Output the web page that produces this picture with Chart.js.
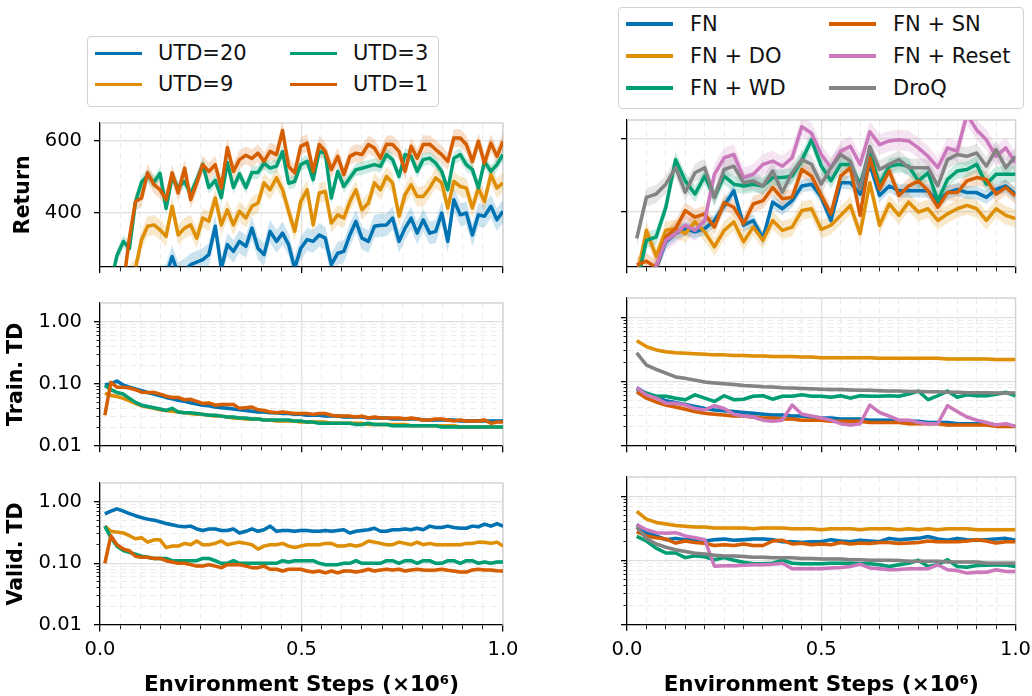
<!DOCTYPE html>
<html>
<head>
<meta charset="utf-8">
<script src="https://cdn.jsdelivr.net/npm/chart.js@4.4.1/dist/chart.umd.min.js"></script>
<style>
  body { margin: 0; width: 1032px; height: 696px; position: relative; overflow: hidden; background: #fff; font-family: 'DejaVu Sans', sans-serif; }
  canvas { position: absolute; }
  .box { position: absolute; border: 1px solid #d2d2d2; border-radius: 4px; background: #fff; }
  .swatch { position: absolute; height: 3.5px; width: 47px; }
  .lbl { position: absolute; font-size: 21px; line-height: 21px; color: #111; white-space: nowrap; }
</style>
</head>
<body>
<script>
// evaluation steps (x 1e6)
const stepsLeft = [
  0.012, 0.027, 0.042, 0.058, 0.073, 0.088, 0.103, 0.118, 0.134, 0.149,
  0.164, 0.179, 0.194, 0.210, 0.225, 0.240, 0.255, 0.270, 0.286, 0.301,
  0.316, 0.331, 0.346, 0.362, 0.377, 0.392, 0.407, 0.422, 0.438, 0.453,
  0.468, 0.483, 0.498, 0.514, 0.529, 0.544, 0.559, 0.574, 0.590, 0.605,
  0.620, 0.635, 0.650, 0.666, 0.681, 0.696, 0.711, 0.726, 0.742, 0.757,
  0.772, 0.787, 0.802, 0.818, 0.833, 0.848, 0.863, 0.878, 0.894, 0.909,
  0.924, 0.939, 0.954, 0.970, 0.985, 1.000
];
const stepsRight = [
  0.025, 0.050, 0.075, 0.100, 0.125, 0.150, 0.175, 0.200, 0.225, 0.250,
  0.275, 0.300, 0.325, 0.350, 0.375, 0.400, 0.425, 0.450, 0.475, 0.500,
  0.525, 0.550, 0.575, 0.600, 0.625, 0.650, 0.675, 0.700, 0.725, 0.750,
  0.775, 0.800, 0.825, 0.850, 0.875, 0.900, 0.925, 0.950, 0.975, 1.000
];

// tick labels
const xTicks = [0, 0.05, 0.1, 0.15, 0.2, 0.25, 0.3, 0.35, 0.4, 0.45, 0.5,
                0.55, 0.6, 0.65, 0.7, 0.75, 0.8, 0.85, 0.9, 0.95, 1];
const xMajor = [0, 0.5, 1];
const returnTicks = [400, 600];
const logTicks = [0.01, 0.02, 0.03, 0.04, 0.05, 0.06, 0.07, 0.08, 0.09,
                  0.1, 0.2, 0.3, 0.4, 0.5, 0.6, 0.7, 0.8, 0.9, 1];
const logMajor = [0.01, 0.1, 1];

// left column: UTD sweep
const utdLabels = ['UTD=20', 'UTD=9', 'UTD=3', 'UTD=1'];
const utdColors = ['#0173b2', '#de8f05', '#029e73', '#d55e00'];

const returnUtd20 = [
  150, 160, 170, 180, 190, 200, 205, 210, 215, 220,
  225, 278, 230, 240, 255, 262, 269, 283, 362, 245,
  311, 292, 320, 306, 357, 301, 283, 348, 320, 343,
  311, 245, 300, 325, 320, 338, 329, 255, 287, 292,
  338, 376, 329, 320, 362, 365, 366, 385, 320, 357,
  385, 343, 380, 343, 348, 399, 320, 436, 394, 399,
  338, 394, 390, 418, 380, 404
];
const returnUtd9 = [
  150, 165, 180, 200, 225, 245, 324, 362, 366, 352,
  334, 418, 338, 357, 366, 329, 385, 376, 441, 366,
  408, 366, 404, 385, 418, 427, 483, 464, 497, 464,
  404, 348, 431, 464, 366, 455, 459, 371, 394, 385,
  431, 464, 408, 427, 483, 464, 501, 483, 390, 450,
  478, 445, 445, 469, 497, 483, 413, 487, 473, 469,
  413, 469, 431, 506, 469, 483
];
const returnUtd3 = [
  180, 205, 280, 320, 300, 430, 485, 503, 485, 510,
  412, 500, 470, 487, 452, 491, 535, 470, 490, 442,
  540, 470, 508, 470, 512, 512, 538, 524, 530, 570,
  482, 487, 534, 543, 492, 571, 566, 441, 515, 473,
  497, 520, 524, 529, 534, 529, 562, 548, 501, 562,
  557, 515, 548, 552, 538, 515, 464, 552, 562, 534,
  520, 469, 543, 515, 534, 562
];
const returnUtd1 = [
  150, 170, 195, 200, 330, 431, 441, 511, 478, 464,
  436, 511, 455, 524, 436, 483, 534, 515, 534, 469,
  582, 515, 548, 560, 551, 566, 543, 571, 562, 629,
  529, 511, 585, 594, 515, 590, 571, 520, 557, 506,
  557, 566, 562, 590, 580, 552, 591, 590, 571, 515,
  585, 552, 590, 591, 576, 562, 543, 608, 608, 590,
  543, 599, 538, 594, 557, 599
];

const trainUtd20 = [
  0.095, 0.100, 0.110, 0.095, 0.088, 0.082, 0.077, 0.072, 0.068, 0.064,
  0.060, 0.057, 0.054, 0.052, 0.049, 0.047, 0.045, 0.044, 0.042, 0.041,
  0.040, 0.039, 0.038, 0.037, 0.036, 0.035, 0.035, 0.034, 0.034, 0.033,
  0.033, 0.032, 0.032, 0.031, 0.031, 0.031, 0.030, 0.030, 0.030, 0.029,
  0.029, 0.029, 0.029, 0.028, 0.028, 0.028, 0.028, 0.027, 0.027, 0.027,
  0.027, 0.027, 0.026, 0.026, 0.026, 0.026, 0.026, 0.026, 0.025, 0.025,
  0.025, 0.025, 0.025, 0.025, 0.025, 0.025
];
const trainUtd9 = [
  0.070, 0.065, 0.062, 0.058, 0.053, 0.048, 0.044, 0.042, 0.040, 0.038,
  0.037, 0.036, 0.035, 0.034, 0.033, 0.032, 0.032, 0.031, 0.030, 0.030,
  0.029, 0.028, 0.028, 0.027, 0.027, 0.027, 0.026, 0.026, 0.025, 0.025,
  0.025, 0.025, 0.024, 0.024, 0.024, 0.024, 0.024, 0.023, 0.023, 0.023,
  0.023, 0.023, 0.023, 0.022, 0.022, 0.022, 0.022, 0.022, 0.022, 0.022,
  0.021, 0.021, 0.021, 0.021, 0.021, 0.021, 0.021, 0.021, 0.020, 0.020,
  0.020, 0.020, 0.020, 0.020, 0.020, 0.020
];
const trainUtd3 = [
  0.094, 0.080, 0.072, 0.068, 0.058, 0.050, 0.045, 0.043, 0.041, 0.039,
  0.037, 0.040, 0.035, 0.034, 0.034, 0.033, 0.032, 0.031, 0.031, 0.030,
  0.029, 0.029, 0.028, 0.028, 0.027, 0.027, 0.026, 0.026, 0.026, 0.026,
  0.026, 0.025, 0.025, 0.024, 0.024, 0.023, 0.023, 0.023, 0.023, 0.023,
  0.023, 0.022, 0.022, 0.023, 0.022, 0.022, 0.022, 0.021, 0.021, 0.021,
  0.021, 0.021, 0.021, 0.021, 0.021, 0.020, 0.020, 0.020, 0.020, 0.020,
  0.020, 0.020, 0.020, 0.020, 0.020, 0.020
];
const trainUtd1 = [
  0.031, 0.105, 0.088, 0.088, 0.085, 0.080, 0.073, 0.072, 0.072, 0.068,
  0.063, 0.060, 0.060, 0.055, 0.056, 0.052, 0.048, 0.049, 0.045, 0.046,
  0.046, 0.046, 0.040, 0.041, 0.042, 0.038, 0.037, 0.035, 0.034, 0.035,
  0.034, 0.033, 0.033, 0.033, 0.032, 0.033, 0.033, 0.031, 0.030, 0.030,
  0.030, 0.029, 0.030, 0.028, 0.029, 0.028, 0.028, 0.028, 0.028, 0.027,
  0.028, 0.027, 0.026, 0.026, 0.027, 0.027, 0.026, 0.025, 0.026, 0.025,
  0.025, 0.025, 0.026, 0.023, 0.024, 0.024
];

const validUtd20 = [
  0.63, 0.70, 0.76, 0.70, 0.64, 0.59, 0.55, 0.52, 0.50, 0.47,
  0.44, 0.42, 0.40, 0.39, 0.40, 0.36, 0.34, 0.36, 0.36, 0.34,
  0.34, 0.36, 0.31, 0.33, 0.36, 0.33, 0.35, 0.40, 0.33, 0.34,
  0.34, 0.33, 0.34, 0.34, 0.33, 0.33, 0.34, 0.33, 0.34, 0.35,
  0.31, 0.33, 0.34, 0.35, 0.37, 0.33, 0.33, 0.35, 0.35, 0.36,
  0.35, 0.37, 0.35, 0.40, 0.38, 0.38, 0.40, 0.38, 0.37, 0.37,
  0.40, 0.39, 0.43, 0.40, 0.44, 0.40
];
const validUtd9 = [
  0.40, 0.33, 0.32, 0.31, 0.28, 0.25, 0.26, 0.22, 0.24, 0.24,
  0.18, 0.19, 0.19, 0.21, 0.20, 0.23, 0.20, 0.20, 0.21, 0.23,
  0.20, 0.21, 0.22, 0.21, 0.20, 0.17, 0.19, 0.20, 0.20, 0.21,
  0.19, 0.18, 0.19, 0.20, 0.20, 0.20, 0.21, 0.21, 0.19, 0.19,
  0.20, 0.19, 0.20, 0.23, 0.22, 0.21, 0.20, 0.20, 0.22, 0.21,
  0.20, 0.22, 0.20, 0.21, 0.20, 0.20, 0.20, 0.20, 0.20, 0.21,
  0.21, 0.22, 0.22, 0.21, 0.22, 0.19
];
const validUtd3 = [
  0.40, 0.26, 0.19, 0.16, 0.15, 0.14, 0.13, 0.125, 0.12, 0.12,
  0.12, 0.11, 0.11, 0.11, 0.11, 0.11, 0.12, 0.12, 0.11, 0.10,
  0.10, 0.11, 0.10, 0.10, 0.10, 0.10, 0.10, 0.10, 0.10, 0.11,
  0.105, 0.11, 0.11, 0.11, 0.11, 0.10, 0.095, 0.095, 0.095, 0.10,
  0.10, 0.11, 0.10, 0.10, 0.10, 0.10, 0.11, 0.11, 0.10, 0.11,
  0.11, 0.10, 0.11, 0.11, 0.10, 0.10, 0.11, 0.11, 0.10, 0.11,
  0.11, 0.10, 0.105, 0.10, 0.105, 0.105
];
const validUtd1 = [
  0.10, 0.28, 0.20, 0.17, 0.16, 0.13, 0.125, 0.125, 0.12, 0.12,
  0.11, 0.105, 0.10, 0.10, 0.095, 0.09, 0.09, 0.095, 0.09, 0.085,
  0.095, 0.095, 0.095, 0.09, 0.085, 0.085, 0.09, 0.08, 0.08, 0.075,
  0.08, 0.08, 0.08, 0.075, 0.072, 0.075, 0.07, 0.075, 0.07, 0.075,
  0.075, 0.072, 0.075, 0.08, 0.075, 0.078, 0.08, 0.078, 0.08, 0.075,
  0.078, 0.08, 0.078, 0.077, 0.078, 0.08, 0.077, 0.075, 0.072, 0.072,
  0.078, 0.08, 0.078, 0.078, 0.076, 0.075
];

// right column: regularisation variants
const fnLabels = ['FN', 'FN + DO', 'FN + WD', 'FN + SN', 'FN + Reset', 'DroQ'];
const fnColors = ['#0173b2', '#de8f05', '#029e73', '#d55e00', '#cc78bc', '#838383'];

const returnFN = [
  200, 220, 245, 318, 340, 354, 345, 354, 376, 417,
  457, 363, 376, 327, 426, 408, 430, 470, 475, 440,
  376, 479, 479, 448, 529, 444, 470, 457, 457, 457,
  457, 426, 452, 461, 452, 452, 439, 461, 470, 448
];
const returnDO = [
  220, 349, 278, 349, 354, 340, 372, 345, 304, 349,
  372, 318, 358, 322, 376, 349, 358, 403, 408, 352,
  363, 390, 417, 340, 479, 363, 421, 390, 426, 399,
  408, 376, 394, 408, 417, 408, 376, 408, 390, 381
];
const returnWD = [
  200, 322, 331, 412, 542, 484, 448, 497, 439, 497,
  475, 470, 475, 470, 493, 493, 497, 540, 596, 525,
  484, 529, 529, 475, 565, 475, 524, 529, 524, 484,
  506, 430, 488, 511, 515, 529, 475, 502, 502, 502
];
const returnSN = [
  255, 265, 248, 331, 354, 403, 385, 394, 358, 425,
  412, 367, 421, 430, 466, 435, 439, 515, 497, 445,
  394, 497, 520, 390, 547, 461, 511, 444, 470, 484,
  457, 412, 452, 452, 484, 493, 488, 448, 466, 443
];
const returnReset = [
  170, 200, 252, 322, 340, 363, 349, 376, 502, 547,
  556, 493, 502, 529, 538, 524, 547, 632, 614, 556,
  520, 565, 578, 529, 618, 583, 593, 596, 593, 574,
  551, 520, 574, 565, 665, 623, 596, 551, 574, 533
];
const returnDroQ = [
  327, 439, 448, 475, 520, 453, 506, 520, 439, 515,
  524, 479, 484, 470, 511, 453, 506, 542, 529, 475,
  520, 556, 538, 461, 578, 515, 529, 542, 520, 520,
  520, 470, 542, 556, 551, 560, 524, 569, 520, 551
];

const trainFN = [
  0.080, 0.065, 0.058, 0.050, 0.047, 0.044, 0.041, 0.038, 0.036, 0.035,
  0.034, 0.033, 0.032, 0.031, 0.030, 0.030, 0.029, 0.029, 0.028, 0.027,
  0.027, 0.026, 0.026, 0.026, 0.025, 0.025, 0.025, 0.024, 0.024, 0.024,
  0.023, 0.023, 0.023, 0.022, 0.022, 0.022, 0.022, 0.021, 0.021, 0.020
];
const trainDO = [
  0.43, 0.35, 0.31, 0.29, 0.28, 0.275, 0.27, 0.265, 0.26, 0.26,
  0.255, 0.255, 0.25, 0.25, 0.245, 0.245, 0.245, 0.24, 0.24, 0.235,
  0.235, 0.235, 0.235, 0.235, 0.235, 0.23, 0.23, 0.23, 0.23, 0.23,
  0.23, 0.23, 0.225, 0.225, 0.225, 0.225, 0.225, 0.22, 0.22, 0.22
];
const trainWD = [
  0.075, 0.066, 0.059, 0.059, 0.055, 0.052, 0.062, 0.055, 0.049, 0.060,
  0.052, 0.053, 0.059, 0.060, 0.053, 0.059, 0.059, 0.062, 0.059, 0.059,
  0.057, 0.060, 0.055, 0.060, 0.059, 0.059, 0.060, 0.059, 0.064, 0.071,
  0.052, 0.060, 0.071, 0.057, 0.062, 0.060, 0.060, 0.063, 0.068, 0.060
];
const trainSN = [
  0.069, 0.055, 0.048, 0.043, 0.040, 0.037, 0.034, 0.032, 0.031, 0.030,
  0.029, 0.029, 0.028, 0.027, 0.027, 0.026, 0.026, 0.025, 0.025, 0.025,
  0.024, 0.024, 0.024, 0.024, 0.023, 0.023, 0.023, 0.023, 0.022, 0.022,
  0.022, 0.022, 0.021, 0.021, 0.021, 0.021, 0.021, 0.020, 0.020, 0.020
];
const trainReset = [
  0.080, 0.062, 0.055, 0.046, 0.046, 0.043, 0.038, 0.036, 0.042, 0.038,
  0.031, 0.029, 0.028, 0.025, 0.024, 0.025, 0.043, 0.031, 0.029, 0.027,
  0.025, 0.022, 0.021, 0.022, 0.043, 0.033, 0.029, 0.025, 0.025, 0.023,
  0.022, 0.022, 0.042, 0.034, 0.028, 0.025, 0.023, 0.021, 0.022, 0.020
];
const trainDroQ = [
  0.28, 0.18, 0.155, 0.135, 0.118, 0.112, 0.105, 0.098, 0.095, 0.092,
  0.090, 0.087, 0.085, 0.083, 0.082, 0.080, 0.079, 0.078, 0.077, 0.076,
  0.075, 0.075, 0.074, 0.073, 0.073, 0.072, 0.071, 0.071, 0.070, 0.070,
  0.069, 0.069, 0.068, 0.068, 0.067, 0.067, 0.067, 0.066, 0.066, 0.066
];

const validFN = [
  0.36, 0.27, 0.24, 0.21, 0.22, 0.21, 0.21, 0.20, 0.21, 0.215,
  0.205, 0.21, 0.215, 0.215, 0.21, 0.195, 0.195, 0.19, 0.195, 0.195,
  0.21, 0.20, 0.195, 0.205, 0.20, 0.195, 0.22, 0.21, 0.215, 0.22,
  0.235, 0.215, 0.205, 0.22, 0.21, 0.205, 0.21, 0.215, 0.22, 0.205
];
const validDO = [
  0.58, 0.44, 0.39, 0.37, 0.35, 0.34, 0.33, 0.33, 0.32, 0.32,
  0.32, 0.32, 0.31, 0.32, 0.32, 0.32, 0.31, 0.31, 0.31, 0.30,
  0.31, 0.31, 0.31, 0.30, 0.31, 0.31, 0.31, 0.30, 0.31, 0.30,
  0.31, 0.30, 0.31, 0.31, 0.31, 0.30, 0.30, 0.30, 0.30, 0.30
];
const validWD = [
  0.236, 0.20, 0.155, 0.13, 0.13, 0.11, 0.118, 0.113, 0.102, 0.11,
  0.10, 0.093, 0.088, 0.088, 0.09, 0.10, 0.09, 0.088, 0.088, 0.088,
  0.09, 0.09, 0.09, 0.088, 0.088, 0.085, 0.08, 0.085, 0.09, 0.10,
  0.08, 0.085, 0.102, 0.08, 0.078, 0.083, 0.084, 0.085, 0.084, 0.08
];
const validSN = [
  0.28, 0.24, 0.225, 0.215, 0.186, 0.20, 0.19, 0.185, 0.17, 0.175,
  0.17, 0.18, 0.17, 0.17, 0.20, 0.205, 0.18, 0.185, 0.175, 0.18,
  0.175, 0.19, 0.18, 0.186, 0.183, 0.19, 0.19, 0.183, 0.186, 0.19,
  0.20, 0.195, 0.195, 0.195, 0.20, 0.21, 0.20, 0.186, 0.195, 0.195
];
const validReset = [
  0.36, 0.30, 0.27, 0.265, 0.27, 0.24, 0.225, 0.21, 0.081, 0.082,
  0.082, 0.084, 0.085, 0.085, 0.087, 0.09, 0.074, 0.074, 0.074, 0.074,
  0.076, 0.077, 0.08, 0.087, 0.076, 0.074, 0.071, 0.072, 0.074, 0.074,
  0.074, 0.085, 0.071, 0.069, 0.063, 0.065, 0.065, 0.071, 0.067, 0.067
];
const validDroQ = [
  0.33, 0.22, 0.18, 0.16, 0.146, 0.137, 0.129, 0.125, 0.12, 0.117,
  0.117, 0.115, 0.112, 0.112, 0.11, 0.11, 0.11, 0.107, 0.107, 0.105,
  0.105, 0.105, 0.102, 0.102, 0.10, 0.10, 0.10, 0.099, 0.097, 0.097,
  0.097, 0.097, 0.094, 0.094, 0.094, 0.094, 0.09, 0.09, 0.09, 0.09
];

// half-width of the shaded seed bands
const returnSpreadLeft = [32, 28, 18, 25];
const returnSpreadRight = [18, 25, 22, 22, 28, 25];
const tdRatio = 1.07;

Chart.defaults.font.family = "'DejaVu Sans', sans-serif";
Chart.defaults.color = '#000';

const near = (list, v) => list.some(m => Math.abs(m - v) < 1e-9);
function fade(hex, a) {
  const n = parseInt(hex.slice(1), 16);
  return `rgba(${n >> 16}, ${(n >> 8) & 255}, ${n & 255}, ${a})`;
}

// top and right spines in light grey
const framePlugin = {
  id: 'frame',
  beforeDatasetsDraw(chart) {
    const { ctx, chartArea: a } = chart;
    ctx.save();
    ctx.strokeStyle = '#d3d3d3';
    ctx.lineWidth = 1.3;
    ctx.beginPath();
    ctx.moveTo(a.left, a.top);
    ctx.lineTo(a.right, a.top);
    ctx.lineTo(a.right, a.bottom);
    ctx.stroke();
    ctx.restore();
  }
};

function xScale(showLabels, height) {
  const maj = c => c.tick && near(xMajor, c.tick.value);
  return {
    type: 'linear', min: 0, max: 1,
    afterBuildTicks: s => { s.ticks = xTicks.map(v => ({ value: v })); },
    afterFit: s => { s.height = height; s.paddingLeft = 0; s.paddingRight = 0; },
    ticks: {
      autoSkip: false, maxRotation: 0, minRotation: 0, padding: 7,
      color: '#000', font: { size: 19.5 },
      callback: v => (showLabels && near(xMajor, v)) ? v.toFixed(1) : ''
    },
    grid: {
      color: c => maj(c) ? '#e0e0e0' : '#ececec',
      lineWidth: c => maj(c) ? 1.3 : 1,
      tickLength: 6.5, tickColor: '#000',
      tickWidth: c => maj(c) ? 1.3 : 0.9,
      tickBorderDash: c => maj(c) ? [] : [4, 100]
    },
    border: { color: '#000', width: 1.3, dash: c => (c.tick && !maj(c)) ? [6, 4] : [] },
    title: {
      display: showLabels, text: 'Environment Steps (×10⁶)', color: '#000',
      font: { size: 21.5, weight: 'bold' }, padding: { top: 0, bottom: -2 }
    }
  };
}

function yScale(isLog, showLabels, width, title, titlePad) {
  const list = isLog ? logTicks : returnTicks;
  const majors = isLog ? logMajor : returnTicks;
  const maj = c => c.tick && near(majors, c.tick.value);
  return {
    type: isLog ? 'logarithmic' : 'linear',
    min: isLog ? 0.01 : 250, max: isLog ? 2 : 650,
    afterBuildTicks: s => { s.ticks = list.map(v => ({ value: v })); },
    afterFit: s => { s.width = width; s.paddingTop = 0; s.paddingBottom = 0; },
    ticks: {
      autoSkip: false, padding: 12, color: '#000', font: { size: 19.5 },
      callback: v => (showLabels && near(majors, v)) ? (isLog ? v.toFixed(2) : String(v)) : ''
    },
    grid: {
      color: c => maj(c) ? '#e0e0e0' : '#ededed',
      lineWidth: c => maj(c) ? 1.3 : 1,
      tickLength: 6, tickColor: '#000',
      tickWidth: c => maj(c) ? 1.3 : 0.9,
      tickBorderDash: c => maj(c) ? [] : [0, 2.5, 3.5, 100]
    },
    border: { color: '#000', width: 1.3, dash: c => (c.tick && !maj(c)) ? [6, 4] : [] },
    title: {
      display: !!title, text: title || '', color: '#000',
      font: { size: 20.5, weight: 'bold' }, padding: { top: titlePad, bottom: 0 }
    }
  };
}

function buildDatasets(steps, colors, values, spread, isLog) {
  const sets = [];
  values.forEach((ys, j) => {
    const lo = ys.map((y, i) => ({ x: steps[i], y: isLog ? y / spread : y - spread[j] }));
    const hi = ys.map((y, i) => ({ x: steps[i], y: isLog ? y * spread : y + spread[j] }));
    sets.push({ data: lo, borderWidth: 0, pointRadius: 0, fill: false, order: 20 });
    sets.push({ data: hi, borderWidth: 0, pointRadius: 0, fill: '-1',
                backgroundColor: fade(colors[j], 0.2), order: 20 });
  });
  values.forEach((ys, j) => {
    sets.push({
      data: ys.map((y, i) => ({ x: steps[i], y })),
      borderColor: colors[j], borderWidth: 3.5, borderJoinStyle: 'round',
      pointRadius: 0, fill: false, tension: 0, order: values.length - j
    });
  });
  return sets;
}

function panel(box, datasets, xOpts, yOpts) {
  const c = document.createElement('canvas');
  c.width = box.w; c.height = box.h;
  c.style.left = box.left + 'px'; c.style.top = box.top + 'px';
  document.body.appendChild(c);
  new Chart(c, {
    type: 'line',
    data: { datasets },
    options: {
      responsive: false, animation: false, devicePixelRatio: 1,
      layout: { padding: { top: 4, right: box.padRight, left: 0, bottom: 0 } },
      plugins: { legend: { display: false }, tooltip: { enabled: false } },
      scales: { x: xOpts, y: yOpts }
    },
    plugins: [framePlugin]
  });
}

const L = { left: 0, w: 530, padRight: 27 };
const R = { left: 560, w: 472, padRight: 16.5 };

panel({ ...L, top: 119, h: 158 },
  buildDatasets(stepsLeft, utdColors, [returnUtd20, returnUtd9, returnUtd3, returnUtd1], returnSpreadLeft, false),
  xScale(false, 10.5), yScale(false, true, 100, 'Return', 11.5));
panel({ ...L, top: 299, h: 157 },
  buildDatasets(stepsLeft, utdColors, [trainUtd20, trainUtd9, trainUtd3, trainUtd1], tdRatio, true),
  xScale(false, 10.3), yScale(true, true, 100, 'Train. TD', 4.4));
panel({ ...L, top: 479, h: 217 },
  buildDatasets(stepsLeft, utdColors, [validUtd20, validUtd9, validUtd3, validUtd1], tdRatio, true),
  xScale(true, 71), yScale(true, true, 100, 'Valid. TD', 4.4));

panel({ ...R, top: 116, h: 161 },
  buildDatasets(stepsRight, fnColors, [returnFN, returnDO, returnWD, returnSN, returnReset, returnDroQ], returnSpreadRight, false),
  xScale(false, 10.3), yScale(false, false, 67, '', 0));
panel({ ...R, top: 294, h: 162 },
  buildDatasets(stepsRight, fnColors, [trainFN, trainDO, trainWD, trainSN, trainReset, trainDroQ], tdRatio, true),
  xScale(false, 10.3), yScale(true, false, 67, '', 0));
panel({ ...R, top: 473, h: 223 },
  buildDatasets(stepsRight, fnColors, [validFN, validDO, validWD, validSN, validReset, validDroQ], tdRatio, true),
  xScale(true, 71.7), yScale(true, false, 67, '', 0));

// legends (matplotlib fills columns first)
function legend(box, labels, colors, rows, colX, textX, rowY) {
  const b = document.createElement('div');
  b.className = 'box';
  Object.assign(b.style, { left: box.x + 'px', top: box.y + 'px', width: box.w + 'px', height: box.h + 'px' });
  document.body.appendChild(b);
  labels.forEach((t, k) => {
    const col = Math.floor(k / rows), row = k % rows;
    const s = document.createElement('div');
    s.className = 'swatch';
    Object.assign(s.style, { left: colX[col] + 'px', top: (rowY[row] - 1.75) + 'px', background: colors[k] });
    document.body.appendChild(s);
    const l = document.createElement('div');
    l.className = 'lbl';
    l.textContent = t;
    Object.assign(l.style, { left: textX[col] + 'px', top: (rowY[row] - 10) + 'px' });
    document.body.appendChild(l);
  });
}
legend({ x: 87, y: 36, w: 350, h: 69 }, utdLabels, utdColors, 2, [95, 290], [158, 353], [53.3, 84.3]);
legend({ x: 618, y: 7, w: 404, h: 100 }, fnLabels, fnColors, 3, [626, 829], [690, 893], [24, 56, 88]);
</script>
</body>
</html>
